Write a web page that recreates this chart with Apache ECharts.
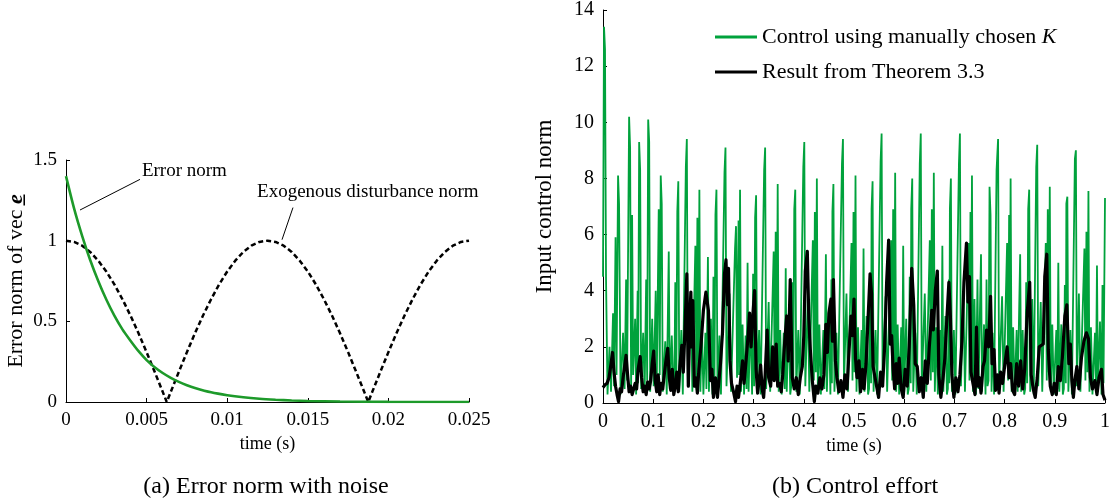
<!DOCTYPE html>
<html><head><meta charset="utf-8">
<script src="https://cdn.jsdelivr.net/npm/echarts@6/dist/echarts.min.js"></script>
<style>html,body{margin:0;padding:0;background:#fff}#c{width:1117px;height:503px}</style>
</head><body><div id="c"></div>
<script>
// ---- Data ----
// (a) Error norm [time s, norm]
const errNorm = [[0,1.4],[0.0005,1.2],[0.001,1.03],[0.0015,0.88],[0.002,0.75],[0.0025,0.635],[0.003,0.535],[0.0035,0.45],[0.004,0.38],[0.0045,0.315],[0.005,0.26],[0.0055,0.216],[0.006,0.18],[0.0065,0.15],[0.007,0.125],[0.0075,0.104],[0.008,0.087],[0.009,0.06],[0.01,0.042],[0.011,0.029],[0.012,0.02],[0.013,0.014],[0.014,0.0095],[0.015,0.0065],[0.017,0.003],[0.02,0.001],[0.025,0]];
// (a) Exogenous disturbance norm [time s, norm]
const distNorm = [[0,1],[0.0005,0.992],[0.001,0.969],[0.0015,0.93],[0.002,0.876],[0.0025,0.809],[0.003,0.729],[0.0035,0.637],[0.004,0.536],[0.0045,0.426],[0.005,0.309],[0.0055,0.187],[0.006,0.063],[0.00625,0],[0.0065,0.063],[0.007,0.187],[0.0075,0.309],[0.008,0.426],[0.0085,0.536],[0.009,0.637],[0.0095,0.729],[0.01,0.809],[0.0105,0.876],[0.011,0.93],[0.0115,0.969],[0.012,0.992],[0.0125,1],[0.013,0.992],[0.0135,0.969],[0.014,0.93],[0.0145,0.876],[0.015,0.809],[0.0155,0.729],[0.016,0.637],[0.0165,0.536],[0.017,0.426],[0.0175,0.309],[0.018,0.187],[0.0185,0.063],[0.01875,0],[0.019,0.063],[0.0195,0.187],[0.02,0.309],[0.0205,0.426],[0.021,0.536],[0.0215,0.637],[0.022,0.729],[0.0225,0.809],[0.023,0.876],[0.0235,0.93],[0.024,0.969],[0.0245,0.992],[0.025,1]];
// (b) Control using manually chosen K [time s, norm]
const controlManual = [[0,4.5],[0.002,13.4],[0.004,12.6],[0.006,4.5],[0.009,0.3],[0.013,2.0],[0.016,0.4],[0.020,3.2],[0.022,0.6],[0.025,5.9],[0.027,1.0],[0.030,8.1],[0.032,7.1],[0.035,0.3],[0.040,2.5],[0.043,0.5],[0.046,4.4],[0.048,0.8],[0.052,10.2],[0.054,9.1],[0.056,0.5],[0.058,6.7],[0.060,1.0],[0.064,3.0],[0.066,0.3],[0.069,4.0],[0.070,0.7],[0.072,9.3],[0.074,8.3],[0.076,0.5],[0.080,2.5],[0.083,0.4],[0.086,4.4],[0.088,0.8],[0.090,10.1],[0.092,9.3],[0.094,0.4],[0.098,3.0],[0.101,0.6],[0.105,4.0],[0.107,0.5],[0.111,6.9],[0.113,1.0],[0.115,8.1],[0.117,7.1],[0.119,0.4],[0.124,2.2],[0.127,0.3],[0.131,5.4],[0.133,0.5],[0.137,2.4],[0.140,0.4],
[0.142,0.5],[0.144,4.3],[0.146,0.7],[0.148,6.8],[0.150,7.9],[0.152,0.4],[0.156,2.6],[0.159,0.3],[0.165,8.4],[0.167,9.4],[0.169,0.6],[0.175,3.7],[0.178,0.4],[0.184,5.6],[0.186,0.8],[0.188,6.6],[0.190,1.1],[0.192,7.6],[0.194,0.4],[0.197,2.7],[0.200,0.3],[0.204,2.5],[0.206,0.5],[0.209,5.2],[0.211,0.4],[0.215,3.0],[0.218,0.3],
[0.220,4.5],[0.222,0.7],[0.224,6.7],[0.226,7.6],[0.228,0.5],[0.232,2.4],[0.235,0.3],[0.242,8.2],[0.244,9.1],[0.246,0.6],[0.252,3.9],[0.255,0.4],[0.263,5.5],[0.265,6.3],[0.267,0.9],[0.270,6.5],[0.271,1.0],[0.273,7.6],[0.275,0.4],[0.278,2.8],[0.281,0.3],[0.284,2.4],[0.286,0.5],[0.288,5.0],[0.290,0.4],[0.294,3.1],[0.297,0.3],
[0.299,4.6],[0.301,0.6],[0.303,6.6],[0.305,7.4],[0.307,0.5],[0.311,2.6],[0.314,0.3],[0.321,8.3],[0.323,9.1],[0.325,0.5],[0.330,3.6],[0.333,0.4],[0.340,5.4],[0.342,0.8],[0.344,6.1],[0.346,1.0],[0.348,7.8],[0.350,0.4],[0.353,2.6],[0.356,0.3],[0.360,2.5],[0.362,0.5],[0.364,4.8],[0.366,0.4],[0.370,3.2],[0.373,0.3],
[0.375,0.6],[0.377,4.3],[0.379,0.7],[0.381,6.9],[0.383,7.6],[0.385,0.4],[0.389,2.6],[0.392,0.3],[0.399,8.4],[0.401,9.3],[0.403,0.6],[0.408,3.8],[0.411,0.4],[0.418,5.8],[0.420,0.8],[0.422,6.8],[0.424,1.1],[0.426,8.0],[0.428,0.4],[0.431,2.8],[0.434,0.3],[0.439,2.6],[0.441,0.5],[0.444,5.3],[0.446,0.4],[0.450,3.0],[0.453,0.3],
[0.455,4.4],[0.456,0.7],[0.457,6.8],[0.459,7.8],[0.461,0.4],[0.465,2.5],[0.468,0.3],[0.476,8.5],[0.478,9.4],[0.480,0.6],[0.485,3.9],[0.488,0.4],[0.495,5.7],[0.497,0.8],[0.499,6.8],[0.501,1.1],[0.503,8.1],[0.505,0.4],[0.508,2.7],[0.511,0.3],[0.515,2.6],[0.517,0.5],[0.519,5.5],[0.521,0.4],[0.525,3.1],[0.528,0.3],
[0.530,0.5],[0.532,4.5],[0.534,0.7],[0.535,6.9],[0.537,7.9],[0.539,0.4],[0.543,2.6],[0.546,0.3],[0.553,8.6],[0.555,9.6],[0.557,0.6],[0.563,3.8],[0.566,0.4],[0.574,5.8],[0.576,0.8],[0.578,6.9],[0.580,1.1],[0.582,8.2],[0.584,0.4],[0.587,2.8],[0.590,0.3],[0.594,2.7],[0.596,0.5],[0.598,5.6],[0.600,0.4],[0.604,3.0],[0.607,0.3],
[0.609,0.5],[0.611,4.5],[0.613,0.7],[0.614,6.9],[0.616,8.0],[0.618,0.4],[0.622,2.5],[0.625,0.3],[0.631,8.5],[0.633,9.6],[0.635,0.6],[0.641,3.9],[0.644,0.4],[0.651,5.8],[0.653,0.8],[0.655,6.9],[0.657,1.1],[0.659,8.2],[0.661,0.4],[0.664,2.7],[0.667,0.3],[0.672,2.6],[0.674,0.5],[0.676,5.6],[0.678,0.4],[0.682,3.1],[0.685,0.3],
[0.687,0.5],[0.689,4.4],[0.690,0.7],[0.691,6.9],[0.693,8.0],[0.695,0.4],[0.699,2.6],[0.702,0.3],[0.709,8.5],[0.711,9.6],[0.713,0.6],[0.718,3.8],[0.721,0.4],[0.728,5.7],[0.730,0.8],[0.732,6.8],[0.733,1.1],[0.735,8.1],[0.737,0.4],[0.740,3.7],[0.743,0.3],[0.746,4.4],[0.748,0.5],[0.753,5.3],[0.755,0.4],[0.759,2.8],[0.762,0.3],
[0.764,4.4],[0.766,0.6],[0.768,0.8],[0.770,7.7],[0.772,6.7],[0.774,0.4],[0.776,2.5],[0.779,0.3],[0.784,8.3],[0.787,9.4],[0.789,0.6],[0.795,3.8],[0.798,0.4],[0.805,5.7],[0.807,0.8],[0.809,6.7],[0.810,1.1],[0.812,8.0],[0.814,0.4],[0.817,2.7],[0.820,0.3],[0.824,2.6],[0.826,0.4],[0.831,5.3],[0.833,0.4],[0.836,2.6],[0.839,0.3],
[0.841,0.5],[0.843,4.3],[0.845,0.7],[0.847,6.9],[0.849,7.6],[0.851,0.4],[0.855,3.7],[0.858,0.3],[0.863,8.4],[0.865,9.2],[0.867,0.6],[0.872,3.6],[0.875,0.4],[0.882,5.7],[0.884,0.8],[0.886,6.9],[0.888,1.1],[0.890,7.7],[0.892,0.4],[0.895,2.8],[0.898,0.3],[0.903,2.6],[0.905,0.5],[0.907,5.0],[0.909,0.4],[0.913,2.8],[0.916,0.3],
[0.918,0.5],[0.920,4.2],[0.922,0.7],[0.923,7.1],[0.925,7.35],[0.927,0.4],[0.931,2.6],[0.934,0.3],[0.940,8.7],[0.942,9.0],[0.944,0.6],[0.948,3.9],[0.951,0.4],[0.959,5.5],[0.961,0.8],[0.963,6.1],[0.965,1.1],[0.967,7.55],[0.969,0.4],[0.972,2.7],[0.975,0.3],[0.980,2.5],[0.982,0.5],[0.984,4.9],[0.986,0.4],[0.990,2.9],[0.993,0.3],[0.995,4.2],[0.997,0.7],[1.000,7.3]];
// (b) Result from Theorem 3.3 [time s, norm]
const controlTheorem = [[0,0.55],[0.004,0.65],[0.008,0.7],[0.012,0.9],[0.016,1.4],[0.019,1.8],[0.022,1.1],[0.025,0.6],[0.028,0.3],[0.031,0.05],[0.034,0.5],[0.037,0.4],[0.040,0.9],[0.043,1.3],[0.046,1.7],[0.049,1.0],[0.052,0.4],[0.055,0.6],[0.058,0.3],[0.061,0.5],[0.064,0.7],[0.067,0.5],[0.070,1.2],[0.074,1.65],[0.077,0.9],[0.080,0.4],[0.083,0.6],[0.086,0.3],[0.089,0.75],[0.092,0.5],[0.095,0.8],[0.098,1.4],[0.101,1.85],[0.104,0.8],[0.107,0.4],[0.110,1.0],[0.113,0.3],[0.116,0.7],[0.119,0.5],[0.122,1.0],[0.125,1.45],[0.129,1.95],[0.132,0.9],[0.135,0.45],[0.138,1.2],[0.141,0.3],[0.144,0.6],[0.147,1.1],[0.150,0.4],[0.153,1.3],[0.157,2.05],[0.160,1.1],[0.163,2.5],[0.167,4.6],[0.170,0.6],[0.173,3.0],[0.175,3.95],[0.177,2.0],[0.179,3.65],[0.182,0.6],[0.185,0.9],[0.188,0.35],[0.191,1.2],[0.195,2.0],[0.200,3.3],[0.205,3.95],[0.210,3.3],[0.214,0.8],[0.217,1.2],[0.220,0.2],[0.224,0.9],[0.228,0.2],[0.231,0.8],[0.234,1.4],[0.238,2.5],[0.242,4.6],[0.245,5.1],[0.248,3.5],[0.250,4.8],[0.253,1.5],[0.256,0.7],[0.260,0.4],[0.264,0.05],[0.267,0.6],[0.270,0.2],[0.274,0.8],[0.278,1.5],[0.281,0.7],[0.285,1.5],[0.289,2.4],[0.292,3.2],[0.295,2.0],[0.298,3.0],[0.302,4.0],[0.305,1.2],[0.308,0.35],[0.311,0.8],[0.314,1.35],[0.317,0.5],[0.320,0.2],[0.323,1.0],[0.327,2.6],[0.330,0.9],[0.334,0.6],[0.338,2.0],[0.341,0.8],[0.345,2.1],[0.348,0.6],[0.352,0.7],[0.355,0.4],[0.358,1.0],[0.362,2.2],[0.366,3.1],[0.369,1.5],[0.373,4.4],[0.377,0.9],[0.381,0.5],[0.385,0.9],[0.389,0.3],[0.393,0.9],[0.397,1.3],[0.400,2.4],[0.403,4.7],[0.407,5.4],[0.410,3.0],[0.413,1.9],[0.417,0.8],[0.421,0.05],[0.424,0.6],[0.428,0.35],[0.432,0.9],[0.436,0.5],[0.440,1.0],[0.444,2.8],[0.447,1.8],[0.450,3.2],[0.454,3.7],[0.457,2.2],[0.459,4.4],[0.463,1.5],[0.466,0.9],[0.470,0.4],[0.474,0.8],[0.478,0.2],[0.482,1.0],[0.486,0.5],[0.490,1.8],[0.494,3.1],[0.497,2.4],[0.500,3.7],[0.503,1.6],[0.506,0.9],[0.510,1.5],[0.513,0.4],[0.517,1.2],[0.520,0.5],[0.524,1.4],[0.528,3.0],[0.532,4.6],[0.535,3.9],[0.538,1.3],[0.542,0.9],[0.546,0.5],[0.549,0.2],[0.553,1.1],[0.557,0.6],[0.561,2.0],[0.565,4.3],[0.569,5.8],[0.572,2.1],[0.575,2.4],[0.578,1.2],[0.581,0.5],[0.584,1.4],[0.587,0.7],[0.590,1.6],[0.594,0.5],[0.598,0.2],[0.602,1.2],[0.606,0.6],[0.610,2.0],[0.615,4.8],[0.619,3.5],[0.622,1.4],[0.626,1.3],[0.630,0.4],[0.634,0.9],[0.638,0.2],[0.642,1.5],[0.646,0.7],[0.650,2.0],[0.655,3.3],[0.658,2.6],[0.662,4.0],[0.666,4.7],[0.669,1.0],[0.673,0.2],[0.677,0.8],[0.681,1.6],[0.685,3.0],[0.689,4.3],[0.692,3.1],[0.695,1.0],[0.699,0.2],[0.703,0.9],[0.707,0.4],[0.711,1.0],[0.715,2.2],[0.719,4.3],[0.724,5.7],[0.727,3.6],[0.730,4.5],[0.733,1.1],[0.737,0.7],[0.741,0.3],[0.744,2.7],[0.747,0.6],[0.750,0.9],[0.753,0.35],[0.757,1.3],[0.760,1.5],[0.764,2.6],[0.768,2.0],[0.772,3.8],[0.775,1.4],[0.779,1.9],[0.782,0.45],[0.786,1.0],[0.789,0.35],[0.792,1.1],[0.796,0.7],[0.800,1.3],[0.805,2.0],[0.809,0.9],[0.812,1.4],[0.816,0.45],[0.820,0.3],[0.824,1.4],[0.828,0.6],[0.832,1.5],[0.836,0.5],[0.840,1.2],[0.845,3.2],[0.850,4.3],[0.853,1.0],[0.857,0.5],[0.861,0.2],[0.865,0.9],[0.869,2.0],[0.877,2.1],[0.880,4.5],[0.884,5.3],[0.887,1.9],[0.891,0.6],[0.895,0.3],[0.899,0.7],[0.903,0.3],[0.907,1.3],[0.911,0.8],[0.915,1.6],[0.920,3.1],[0.924,3.5],[0.928,1.4],[0.931,2.1],[0.934,0.8],[0.937,0.2],[0.940,0.8],[0.944,1.3],[0.948,0.5],[0.953,1.6],[0.958,2.2],[0.963,2.5],[0.967,2.3],[0.971,0.9],[0.975,0.5],[0.980,0.8],[0.984,0.3],[0.988,0.9],[0.993,1.2],[0.996,0.3],[1.000,0.1]];

const seriesNames = ['Control using manually chosen K', 'Result from Theorem 3.3'];
const captions = ['(a) Error norm with noise', '(b) Control effort'];
const annotations = ['Error norm', 'Exogenous disturbance norm'];

// ---- Chart ----
const FONT = 'Liberation Serif';
const chart = echarts.init(document.getElementById('c'), null, {renderer: 'canvas'});

function axisStyle(extra, labelSize, nameSize) {
  return Object.assign({
    type: 'value',
    axisLine: {show: true, onZero: false, lineStyle: {color: '#000', width: 1}},
    axisTick: {show: true, inside: true, length: 4, lineStyle: {color: '#000'}},
    splitLine: {show: false},
    axisLabel: {color: '#000', fontFamily: FONT, fontSize: labelSize, margin: 9, formatter: v => String(parseFloat(v.toFixed(4)))},
    nameTextStyle: {color: '#000', fontFamily: FONT, fontSize: nameSize},
    nameLocation: 'middle'
  }, extra);
}

const option = {
  animation: false,
  backgroundColor: '#fff',
  grid: [
    {left: 66, top: 160, width: 403, height: 242},
    {left: 603, top: 9, width: 502, height: 394}
  ],
  xAxis: [
    axisStyle({gridIndex: 0, min: 0, max: 0.025, interval: 0.005, name: 'time (s)', nameGap: 33}, 19, 18),
    axisStyle({gridIndex: 1, min: 0, max: 1, interval: 0.1, name: 'time (s)', nameGap: 33}, 20, 18)
  ],
  yAxis: [
    axisStyle({gridIndex: 0, min: 0, max: 1.5, interval: 0.5, name: 'Error norm of vec {e|e\u0332}', nameGap: 39,
      nameTextStyle: {color: '#000', fontFamily: FONT, fontSize: 22,
        rich: {e: {fontFamily: FONT, fontSize: 22, fontStyle: 'italic', fontWeight: 'bold', color: '#000'}}}}, 19, 22),
    axisStyle({gridIndex: 1, min: 0, max: 14, interval: 2, name: 'Input control norm', nameGap: 47}, 20, 23)
  ],
  legend: {
    show: true,
    data: seriesNames,
    orient: 'vertical',
    left: 710, top: 21,
    icon: 'rect',
    itemWidth: 42, itemHeight: 3,
    itemGap: 13,
    formatter: n => n === seriesNames[0] ? 'Control using manually chosen {i|K}' : n,
    textStyle: {color: '#000', fontFamily: FONT, fontSize: 22,
      rich: {i: {fontFamily: FONT, fontSize: 22, fontStyle: 'italic', color: '#000'}}}
  },
  series: [
    {type: 'line', name: 'Exogenous disturbance norm', xAxisIndex: 0, yAxisIndex: 0, data: distNorm,
      showSymbol: false, lineStyle: {color: '#000', width: 2.5, type: [5, 3]}, z: 2},
    {type: 'line', name: 'Error norm', xAxisIndex: 0, yAxisIndex: 0, data: errNorm, smooth: 0.25,
      showSymbol: false, lineStyle: {color: '#1d9a2a', width: 2.6}, z: 3},
    {type: 'line', name: seriesNames[0], xAxisIndex: 1, yAxisIndex: 1, data: controlManual,
      showSymbol: false, itemStyle: {color: '#00a23c'}, lineStyle: {color: '#00a23c', width: 1.8}, z: 2},
    {type: 'line', name: seriesNames[1], xAxisIndex: 1, yAxisIndex: 1, data: controlTheorem,
      showSymbol: false, itemStyle: {color: '#000'}, lineStyle: {color: '#000', width: 3.2, join: 'round'}, z: 3}
  ]
};
chart.setOption(option);

// Captions and annotations on panel (a), anchored in data coordinates
const P = c => chart.convertToPixel({gridIndex: 0}, c);
const a1 = P([0.00087, 1.19]), a2 = P([0.00459, 1.38]), t1 = P([0.00471, 1.43]);
const b1 = P([0.0134, 1.006]), b2 = P([0.01408, 1.205]), t2 = P([0.01185, 1.304]);
const txt = (id, x, y, text, size, align) => ({id, type: 'text', x, y, z: 100,
  style: {text, fontFamily: FONT, fontSize: size, fill: '#000', textAlign: align, textVerticalAlign: 'middle'}});
chart.setOption({graphic: [
  txt('capA', 266, 487, captions[0], 24, 'center'),
  txt('capB', 855, 487, captions[1], 24, 'center'),
  {id: 'leadA', type: 'line', z: 100, shape: {x1: a1[0], y1: a1[1], x2: a2[0], y2: a2[1]}, style: {stroke: '#000', lineWidth: 1}},
  txt('annA', t1[0], t1[1], annotations[0], 19, 'left'),
  {id: 'leadB', type: 'line', z: 100, shape: {x1: b1[0], y1: b1[1], x2: b2[0], y2: b2[1]}, style: {stroke: '#000', lineWidth: 1}},
  txt('annB', t2[0], t2[1], annotations[1], 19, 'left')
]});
</script></body></html>
